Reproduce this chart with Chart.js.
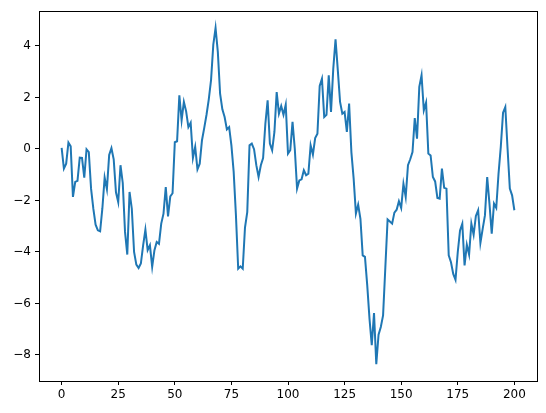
<!DOCTYPE html>
<html>
<head>
<meta charset="utf-8">
<script src="https://cdn.jsdelivr.net/npm/chart.js@4.4.1/dist/chart.umd.min.js"></script>
<style>
  html, body { margin: 0; padding: 0; background: #fff; }
  #wrap { width: 546px; height: 413px; }
</style>
</head>
<body>
<div id="wrap"><canvas id="walk"></canvas></div>
<script>
// ── data ──
const values = [
   0.04, -0.76, -0.57,  0.25,  0.10, -1.86, -1.28, -1.24, -0.34, -0.35,
  -1.11, -0.01, -0.12, -1.54, -2.32, -2.94, -3.16, -3.20, -2.30, -1.11,
  -1.56, -0.23,  0.03, -0.40, -1.68, -2.06, -0.63, -1.32, -3.22, -4.10,
  -1.67, -2.32, -4.00, -4.49, -4.62, -4.45, -3.74, -3.13, -3.93, -3.74,
  -4.58, -3.93, -3.61, -3.68, -2.90, -2.51, -1.48, -2.62, -1.84, -1.72,
   0.26,  0.30,  2.08,  1.11,  1.83,  1.46,  0.85,  1.02, -0.35,  0.08,
  -0.79, -0.57,  0.34,  0.82,  1.33,  1.93,  2.67,  4.05,  4.70,  3.77,
   2.15,  1.54,  1.24,  0.76,  0.85,  0.14, -0.89, -2.58, -4.65, -4.56,
  -4.65, -3.05, -2.45,  0.14,  0.21, -0.01, -0.63, -1.09, -0.63, -0.35,
   0.98,  1.89,  0.21, -0.05,  0.66,  2.21,  1.37,  1.67,  1.33,  1.72,
  -0.18, -0.05,  1.05,  0.01, -1.54, -1.22, -1.18, -0.83, -1.02, -0.96,
   0.14, -0.22,  0.42,  0.59,  2.45,  2.73,  1.24,  1.33,  2.86,  1.44,
   3.12,  4.26,  3.06,  1.83,  1.37,  1.44,  0.66,  1.76, -0.12, -1.15,
  -2.51, -2.16, -2.71, -4.13, -4.19, -5.29, -6.59, -7.62, -6.37, -8.36,
  -7.21, -6.91, -6.46, -4.60, -2.74, -2.82, -2.90, -2.47, -2.36, -2.03,
  -2.29, -1.35, -1.86, -0.63, -0.40, -0.12,  1.20,  0.40,  2.41,  2.86,
   1.50,  1.80, -0.18, -0.25, -1.09, -1.26, -1.90, -1.93, -0.76, -1.51,
  -1.54, -4.13, -4.40, -4.85, -5.08, -4.00, -3.16, -2.90, -4.52, -3.72,
  -4.10, -2.90, -3.33, -2.60, -2.38, -3.65, -3.10, -2.58, -1.09, -2.12,
  -3.29, -2.12, -2.29, -0.96,  0.08,  1.41,  1.63,  0.01, -1.54, -1.80,
  -2.38
];
const steps = values.map((_, i) => i);
const xTicks = [0, 25, 50, 75, 100, 125, 150, 175, 200];
const yTicks = [-8, -6, -4, -2, 0, 2, 4];

const fmt = (v) => String(v).replace('-', '\u2212');

// frame round the plot area (all four spines)
const frame = {
  id: 'frame',
  afterDraw(chart) {
    const a = chart.chartArea;
    const ctx = chart.ctx;
    ctx.save();
    ctx.strokeStyle = '#000';
    ctx.lineWidth = 1;
    ctx.strokeRect(Math.round(a.left) + 0.5, Math.round(a.top) + 0.5,
                   Math.round(a.right - a.left), Math.round(a.bottom - a.top));
    ctx.restore();
  }
};

Chart.defaults.font.family = "'DejaVu Sans', sans-serif";
Chart.defaults.font.size = 12;
Chart.defaults.color = '#000';

new Chart(document.getElementById('walk'), {
  type: 'line',
  plugins: [frame],
  data: {
    labels: steps,
    datasets: [{
      data: values,
      borderColor: '#1f77b4',
      borderWidth: 2,
      pointRadius: 0,
      tension: 0,
      fill: false,
    }]
  },
  options: {
    animation: false,
    responsive: true,
    maintainAspectRatio: false,
    layout: { padding: { top: 8, right: 9, left: 0, bottom: 0 } },
    plugins: {
      legend: { display: false },
      tooltip: { enabled: false },
    },
    scales: {
      x: {
        type: 'linear',
        min: -10,
        max: 210,
        afterBuildTicks: (axis) => { axis.ticks = xTicks.map(v => ({ value: v })); },
        afterFit: (axis) => { axis.height = 32; },
        ticks: { padding: 3, maxRotation: 0, callback: fmt },
        grid: { drawOnChartArea: false, color: '#000', tickLength: 4 },
        border: { display: false },
      },
      y: {
        type: 'linear',
        min: -9.01,
        max: 5.35,
        afterBuildTicks: (axis) => { axis.ticks = yTicks.map(v => ({ value: v })); },
        afterFit: (axis) => { axis.width = 39; },
        ticks: { padding: 4, callback: fmt },
        grid: { drawOnChartArea: false, color: '#000', tickLength: 4 },
        border: { display: false },
      }
    }
  }
});
</script>
</body>
</html>
